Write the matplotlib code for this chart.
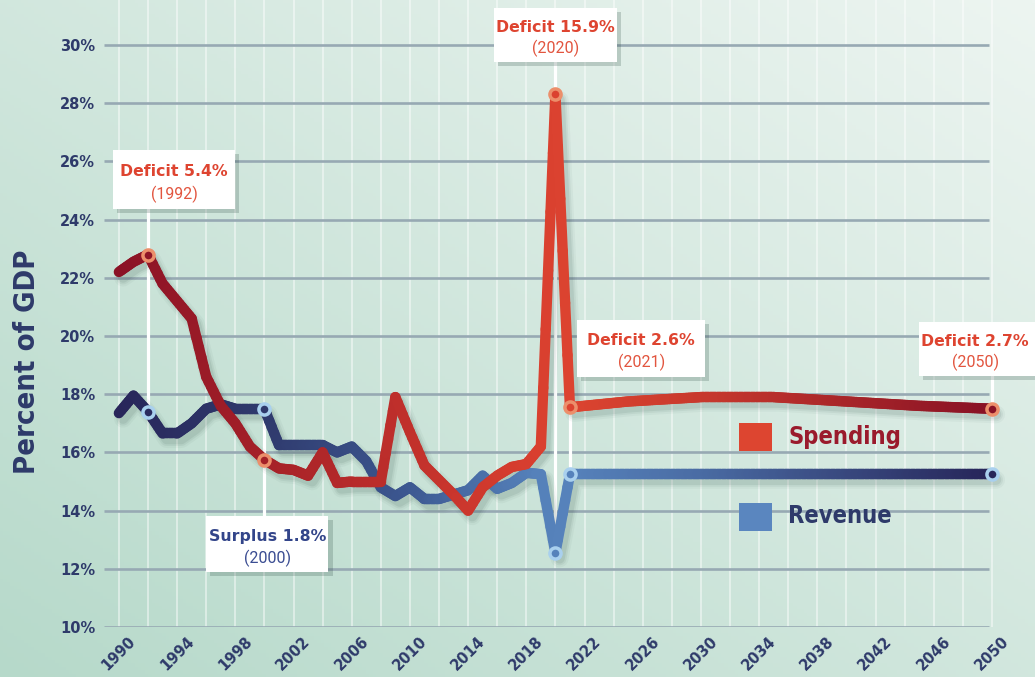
import matplotlib
matplotlib.use('Agg')

import matplotlib.pyplot as plt
import numpy as np
import matplotlib.patheffects as pe
import matplotlib.transforms as mtransforms
from matplotlib.collections import LineCollection
from matplotlib.colors import LinearSegmentedColormap, to_rgb
from matplotlib.patches import Rectangle

# Values (percent of GDP)
years_hist = list(range(1990, 2022))
spending_hist = [22.2, 22.55, 22.8, 21.8, 21.2, 20.6, 18.6, 17.6, 17.0, 16.2,
                 15.75, 15.45, 15.4, 15.2, 16.0, 14.95, 15.0, 15.0, 15.0, 17.9,
                 16.7, 15.55, 15.05, 14.55, 14.0, 14.8, 15.2, 15.5, 15.6, 16.2,
                 28.3, 17.55]
revenue_hist = [17.35, 17.95, 17.4, 16.65, 16.65, 17.0, 17.5, 17.65, 17.5, 17.5,
                17.5, 16.25, 16.25, 16.25, 16.25, 16.0, 16.2, 15.7, 14.8, 14.5,
                14.8, 14.4, 14.4, 14.55, 14.7, 15.2, 14.75, 14.95, 15.3, 15.25,
                12.55, 15.25]
years_proj = [2025, 2030, 2035, 2040, 2045, 2050]
spending_proj = [17.75, 17.9, 17.9, 17.75, 17.6, 17.5]
revenue_proj = [15.25, 15.25, 15.25, 15.25, 15.25, 15.25]

y_ticks = list(range(10, 31, 2))
x_ticks = list(range(1990, 2051, 4))

# callouts: year, headline, year label, kind
callouts = [
    (1992, 'Deficit 5.4%', '(1992)', 'deficit'),
    (2000, 'Surplus 1.8%', '(2000)', 'surplus'),
    (2020, 'Deficit 15.9%', '(2020)', 'deficit'),
    (2021, 'Deficit 2.6%', '(2021)', 'deficit'),
    (2050, 'Deficit 2.7%', '(2050)', 'deficit'),
]
# label boxes (x0, x1, y0, y1, text centre x) in data units
box_pos = {
    1992: (1989.6, 1998.0, 24.36, 26.39, 1993.8),
    2000: (1996.0, 2004.4, 11.89, 13.81, 2000.2),
    2020: (2015.8, 2024.2, 29.42, 31.27, 2020.0),
    2021: (2021.5, 2030.3, 18.59, 20.55, 2025.9),
    2050: (2045.0, 2053.7, 18.63, 20.48, 2048.85),
}

years = years_hist + years_proj
spending = spending_hist + spending_proj
revenue = revenue_hist + revenue_proj

NAVY = '#2E3A6A'

fig = plt.figure(figsize=(10.35, 6.77), dpi=100)

# background gradient
bg = fig.add_axes([0, 0, 1, 1], zorder=-10)
gx, gy = np.meshgrid(np.linspace(0, 1, 300), np.linspace(1, 0, 200))
t = np.clip(0.5 * gx + 0.5 * gy, 0, 1)[..., None]
c0, c1 = np.array(to_rgb('#b6d9ca')), np.array(to_rgb('#edf5f1'))
bg.imshow(c0 + (c1 - c0) * t, aspect='auto', extent=[0, 1, 0, 1])
bg.axis('off')

ax = fig.add_axes([104.35 / 1035, 50 / 677, 930.65 / 1035, 627 / 677])
ax.set_facecolor('none')
x_left, x_right = 1989, 1989 + 930.65 / 14.55
y_top = 10 + 627 / 29.1
ax.set_xlim(x_left, x_right)
ax.set_ylim(10, y_top)
for s in ax.spines.values():
    s.set_visible(False)

ax.vlines(range(1990, 2051, 2), 10, y_top, color='white', alpha=0.5, lw=1.3, zorder=0.5)
ax.hlines(y_ticks, x_left, 2049.8, color='#97a9b3', lw=1.9, zorder=0.6)

spend_cmap = LinearSegmentedColormap.from_list('sp', [
    (0.0, '#8a1226'), (0.17, '#a52128'), (0.33, '#c0302b'), (0.48, '#d93f2f'),
    (0.52, '#dc4430'), (0.67, '#c8392d'), (1.0, '#891225')])
rev_cmap = LinearSegmentedColormap.from_list('rv', [
    (0.0, '#28265a'), (0.17, '#2f3a6d'), (0.33, '#3c5790'), (0.48, '#5581ba'),
    (0.52, '#5682bb'), (0.67, '#4a6ca4'), (1.0, '#27265a')])


def to_c(cmap, yr):
    return cmap((np.asarray(yr) - 1990) / 60)


def gradient_line(x, y, cmap, lw, z):
    xs, ys = [], []
    for i in range(len(x) - 1):
        n = max(2, int((x[i + 1] - x[i]) * 6))
        tt = np.linspace(0, 1, n, endpoint=False)
        xs.extend(x[i] + tt * (x[i + 1] - x[i]))
        ys.extend(y[i] + tt * (y[i + 1] - y[i]))
    xs.append(x[-1])
    ys.append(y[-1])
    pts = np.column_stack([xs, ys])
    segs = np.stack([pts[:-1], pts[1:]], axis=1)
    mids = (pts[:-1, 0] + pts[1:, 0]) / 2
    lc = LineCollection(segs, colors=to_c(cmap, mids), linewidths=lw,
                        capstyle='round', joinstyle='round', zorder=z)
    ax.add_collection(lc)


# soft drop shadows
sh = ax.transData + mtransforms.ScaledTranslation(3 / 72, -4 / 72, fig.dpi_scale_trans)
for yy in (revenue, spending):
    for w, a in [(13, 0.04), (10, 0.06), (7.5, 0.08)]:
        ax.plot(years, yy, color='#1b3d33', lw=w, alpha=a, transform=sh,
                solid_joinstyle='round', solid_capstyle='round', zorder=2)

# connector lines
for yr, head, sub, kind in callouts:
    i = years.index(yr)
    s, r = spending[i], revenue[i]
    x0, x1, y0, y1, tx = box_pos[yr]
    if y0 > max(s, r):
        ax.plot([yr, yr], [y0, min(s, r)], color='white', lw=2.3, zorder=1.5)
    else:
        ax.plot([yr, yr], [max(s, r), y1], color='white', lw=2.3, zorder=1.5)

gradient_line(years, revenue, rev_cmap, 7.5, 3)
gradient_line(years, spending, spend_cmap, 7.5, 4)

# markers
for yr, head, sub, kind in callouts:
    i = years.index(yr)
    ax.plot(yr, spending[i], 'o', ms=8, mew=2.5, mfc=to_c(spend_cmap, yr),
            mec='#ec8f6b', zorder=7)
    ax.plot(yr, revenue[i], 'o', ms=8, mew=2.5, mfc=to_c(rev_cmap, yr),
            mec='#a9d0ee', zorder=7)

# callout boxes
for yr, head, sub, kind in callouts:
    x0, x1, y0, y1, tx = box_pos[yr]
    h = y1 - y0
    ax.add_patch(Rectangle((x0, y0), x1 - x0, h, facecolor='white', edgecolor='none',
                           zorder=6, clip_on=False,
                           path_effects=[pe.withSimplePatchShadow(offset=(3, -3),
                                         shadow_rgbFace='#2d4a42', alpha=0.22)]))
    hc, sc = ('#de4430', '#e2553f') if kind == 'deficit' else ('#33458a', '#3b4d92')
    ax.text(tx, y1 - 0.36 * h, head, ha='center', va='center', fontsize=11.3,
            fontweight='bold', color=hc, zorder=8)
    ax.text(tx, y1 - 0.75 * h, sub, ha='center', va='center', fontsize=11.5,
            family=['Roboto', 'DejaVu Sans'], fontweight='normal', color=sc, zorder=8)

# legend
ax.add_patch(Rectangle((2032.6, 16.05), 2.3, 0.96, facecolor='#dd4530', edgecolor='none', zorder=5))
ax.add_patch(Rectangle((2032.6, 13.30), 2.3, 0.96, facecolor='#5a86bf', edgecolor='none', zorder=5))
ax.text(2036.0, 16.53, 'Spending', ha='left', va='center', fontsize=17,
        fontweight='bold', fontstretch='condensed', color='#9a1a2c', zorder=5)
ax.text(2036.0, 13.81, 'Revenue', ha='left', va='center', fontsize=17,
        fontweight='bold', fontstretch='condensed', color=NAVY, zorder=5)

# axes labels
ax.set_yticks(y_ticks, labels=[f'{v}%' for v in y_ticks])
ax.set_xticks(x_ticks, labels=[str(v) for v in x_ticks])
ax.tick_params(axis='both', length=0, labelcolor=NAVY)
ax.tick_params(axis='y', pad=6.5, labelsize=10.5)
ax.tick_params(axis='x', pad=5, labelsize=10.5)
for lab in ax.get_yticklabels() + ax.get_xticklabels():
    lab.set_fontweight('bold')
for lab in ax.get_xticklabels():
    lab.set_rotation(45)
    lab.set_ha('center')

fig.text(27 / 1035, 1 - 362 / 677, 'Percent of GDP', rotation=90, ha='center', va='center',
         fontsize=21, fontweight='bold', fontstretch='condensed', color=NAVY)

fig.savefig('out.png', dpi=100)
